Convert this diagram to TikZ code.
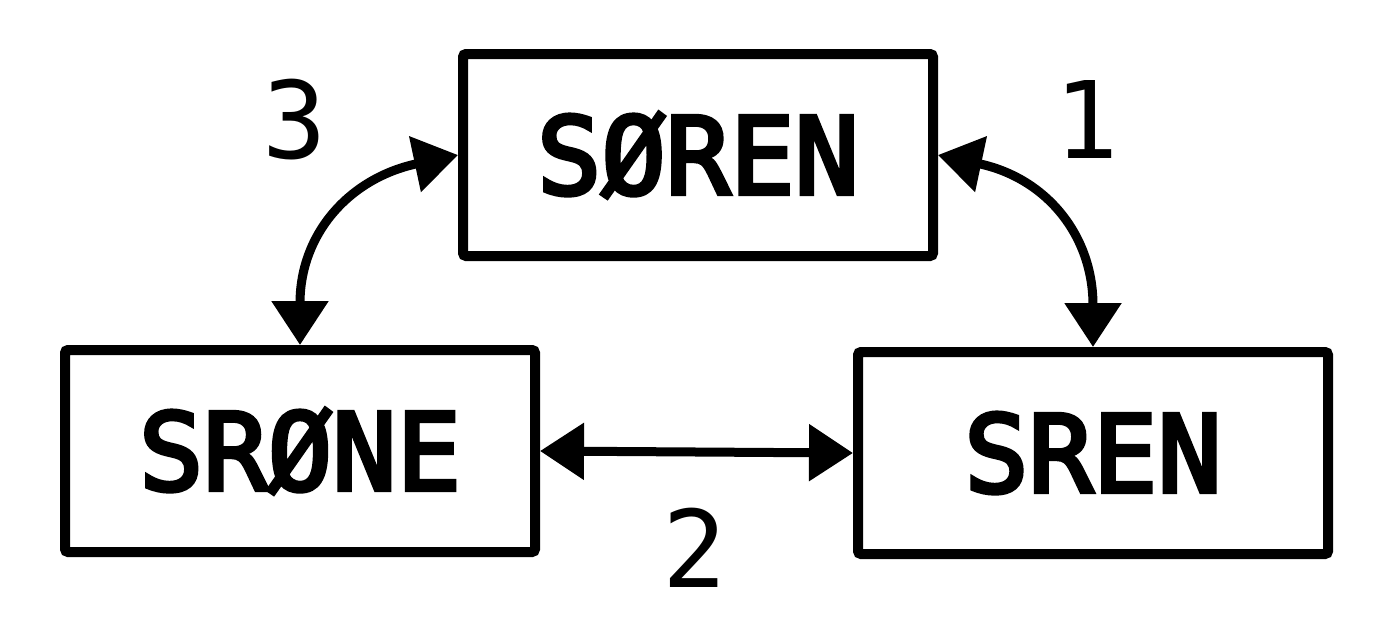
\documentclass[tikz,border=0pt]{standalone}
\usepackage{fontspec}
\newfontfamily\monofam{DejaVu Sans Mono}
\newfontfamily\monomed[FakeBold=4]{DejaVu Sans Mono}
\usetikzlibrary{arrows.meta}
\tikzset{
  namebox/.style={draw=black, line width=10pt, rounded corners=3pt, minimum width=470pt, minimum height=202pt, inner sep=0pt, font=\monomed\fontsize{107}{107}\selectfont, text height=78pt, text depth=0pt},
  numlabel/.style={inner sep=0pt, font=\monofam\fontsize{107}{107}\selectfont, text height=78pt, text depth=0pt},
  link/.style={line width=9pt, {Triangle[length=44pt,width=55pt]}-{Triangle[length=44pt,width=55pt]}}
}
\begin{document}
\begin{tikzpicture}[x=1pt,y=-1pt]
\useasboundingbox[fill=white] (0,0) rectangle (1400,635);
\node[namebox] (soren) at (698,155) {SØREN};
\node[namebox] (srone) at (300,451) {SRØNE};
\node[namebox] (sren) at (1093,453) {SREN};
\node[numlabel] (l3) at (295,119) {3};
\node[numlabel] (l1) at (1087,119) {1};
\node[numlabel] (l2) at (695,548) {2};
\draw[link] (srone.east) -- (sren.west);
\draw[link] (soren.west) to[out=192,in=90,looseness=1.15] (srone.north);
\draw[link] (soren.east) to[out=-12,in=90,looseness=1.15] (sren.north);
\end{tikzpicture}
\end{document}
